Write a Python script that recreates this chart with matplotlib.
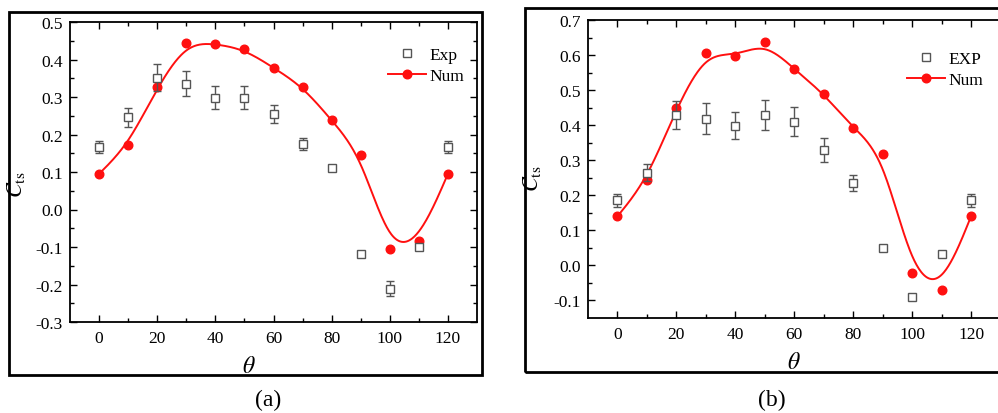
import numpy as np
import matplotlib
matplotlib.use("Agg")
import matplotlib.pyplot as plt
from matplotlib.patches import Rectangle

plt.rcParams['font.family'] = ['Liberation Serif', 'DejaVu Serif']
plt.rcParams['mathtext.fontset'] = 'stix'

# ---------------- data ----------------
theta = [0, 10, 20, 30, 40, 50, 60, 70, 80, 90, 100, 110, 120]

exp_a = [0.168, 0.246, 0.352, 0.336, 0.298, 0.298, 0.255, 0.176, 0.110, -0.119, -0.211, -0.100, 0.168]
exp_a_err = [0.016, 0.026, 0.037, 0.034, 0.031, 0.031, 0.025, 0.016, 0.008, 0.008, 0.020, 0.008, 0.016]
num_a = [0.095, 0.172, 0.326, 0.444, 0.442, 0.427, 0.378, 0.328, 0.238, 0.146, -0.106, -0.085, 0.095]

exp_b = [0.186, 0.265, 0.429, 0.419, 0.399, 0.429, 0.410, 0.329, 0.234, 0.050, -0.089, 0.032, 0.186]
exp_b_err = [0.019, 0.025, 0.041, 0.043, 0.039, 0.043, 0.042, 0.033, 0.023, 0.005, 0.004, 0.005, 0.019]
num_b = [0.140, 0.243, 0.449, 0.607, 0.596, 0.636, 0.560, 0.490, 0.391, 0.319, -0.021, -0.070, 0.140]

x_ticks = [0, 20, 40, 60, 80, 100, 120]
y_ticks_a = [-0.3, -0.2, -0.1, 0.0, 0.1, 0.2, 0.3, 0.4, 0.5]
y_ticks_b = [-0.1, 0.0, 0.1, 0.2, 0.3, 0.4, 0.5, 0.6, 0.7]


def bspline(x, y, n=40):
    """Uniform cubic B-spline using the data points as control points
    (Origin-style 'B-Spline' connection), with reflected end points so the
    curve starts and ends on the first/last point."""
    x = np.asarray(x, float)
    y = np.asarray(y, float)
    xs = np.r_[2 * x[0] - x[1], x, 2 * x[-1] - x[-2]]
    ys = np.r_[2 * y[0] - y[1], y, 2 * y[-1] - y[-2]]
    t = np.linspace(0, 1, n)
    b0 = (1 - t) ** 3 / 6
    b1 = (3 * t ** 3 - 6 * t ** 2 + 4) / 6
    b2 = (-3 * t ** 3 + 3 * t ** 2 + 3 * t + 1) / 6
    b3 = t ** 3 / 6
    X, Y = [], []
    for i in range(len(xs) - 3):
        X.append(b0 * xs[i] + b1 * xs[i + 1] + b2 * xs[i + 2] + b3 * xs[i + 3])
        Y.append(b0 * ys[i] + b1 * ys[i + 1] + b2 * ys[i + 2] + b3 * ys[i + 3])
    return np.concatenate(X), np.concatenate(Y)


W, H = 998, 414
fig = plt.figure(figsize=(W / 100, H / 100), dpi=100)

# outer frames
fig.patches.append(Rectangle((9 / W, (H - 376) / H), 473 / W, 363 / H,
                             transform=fig.transFigure, fill=False, lw=2.0, ec='black'))
fig.patches.append(Rectangle((525 / W, (H - 373) / H), 490 / W, 364 / H,
                             transform=fig.transFigure, fill=False, lw=2.0, ec='black'))

ax_a = fig.add_axes([70 / W, (H - 323) / H, 407 / W, 300 / H])
ax_b = fig.add_axes([588 / W, (H - 319) / H, 412.5 / W, 298 / H])

exp_col = '#555555'
red = '#ff1010'


def draw(ax, exp, err, num, yticks, ylim, exp_label, leg_anchor, xlab_x, ylab_x, ylab_y, right_ticks):
    cx, cy = bspline(theta, num)
    ax.plot(cx, cy, color=red, lw=1.4, zorder=2)
    ax.plot(theta, num, 'o', color=red, ms=6.2, mec=red, zorder=3)
    ax.errorbar(theta, exp, yerr=err, fmt='s', ms=5.4, mfc='white', mec=exp_col,
                mew=1.0, ecolor=exp_col, elinewidth=1.0, capsize=2.8, capthick=1.0, zorder=4)
    ax.set_xlim(-10, 130)
    ax.set_ylim(*ylim)
    ax.set_xticks(x_ticks)
    ax.set_xticks(np.arange(10, 130, 20), minor=True)
    ax.set_yticks(yticks)
    ax.set_yticklabels([f'{v:.1f}' for v in yticks])
    ax.set_yticks(np.arange(yticks[0] + 0.05, yticks[-1], 0.1), minor=True)
    ax.tick_params(which='both', direction='in', top=True, right=right_ticks,
                   labelsize=12.5, width=1.0, colors='black')
    ax.tick_params(which='major', length=5)
    ax.tick_params(which='minor', length=3)
    ax.tick_params(axis='y', pad=5)
    ax.tick_params(axis='x', pad=6)
    for s in ax.spines.values():
        s.set_linewidth(1.3)
    ax.set_xlabel(r'$\theta$', fontsize=17)
    ax.xaxis.set_label_coords(xlab_x, -0.115)
    ax.set_ylabel(r'$C_{\rm ts}$', fontsize=16)
    ax.yaxis.set_label_coords(ylab_x, ylab_y)

    h_exp = plt.Line2D([], [], ls='none', marker='s', ms=5.4, mfc='white', mec=exp_col, mew=1.0)
    h_num = plt.Line2D([], [], color=red, lw=1.4, marker='o', ms=6.2, mec=red)
    ax.legend([h_exp, h_num], [exp_label, 'Num'], loc='upper right',
              bbox_to_anchor=leg_anchor, frameon=False, fontsize=12.5,
              handlelength=2.2, handletextpad=0.2, labelspacing=0.3, borderaxespad=0)


draw(ax_a, exp_a, exp_a_err, num_a, y_ticks_a, (-0.3, 0.5), 'Exp', (0.985, 0.94), 0.44,
     -0.106, 0.46, True)
draw(ax_b, exp_b, exp_b_err, num_b, y_ticks_b, (-0.15, 0.7), 'EXP', (0.975, 0.92), 0.5,
     -0.109, 0.47, False)

fig.text(268 / W, 1 - 400 / H, '(a)', ha='center', va='center', fontsize=17)
fig.text(772 / W, 1 - 400 / H, '(b)', ha='center', va='center', fontsize=17)

fig.savefig('out.png', dpi=100)
